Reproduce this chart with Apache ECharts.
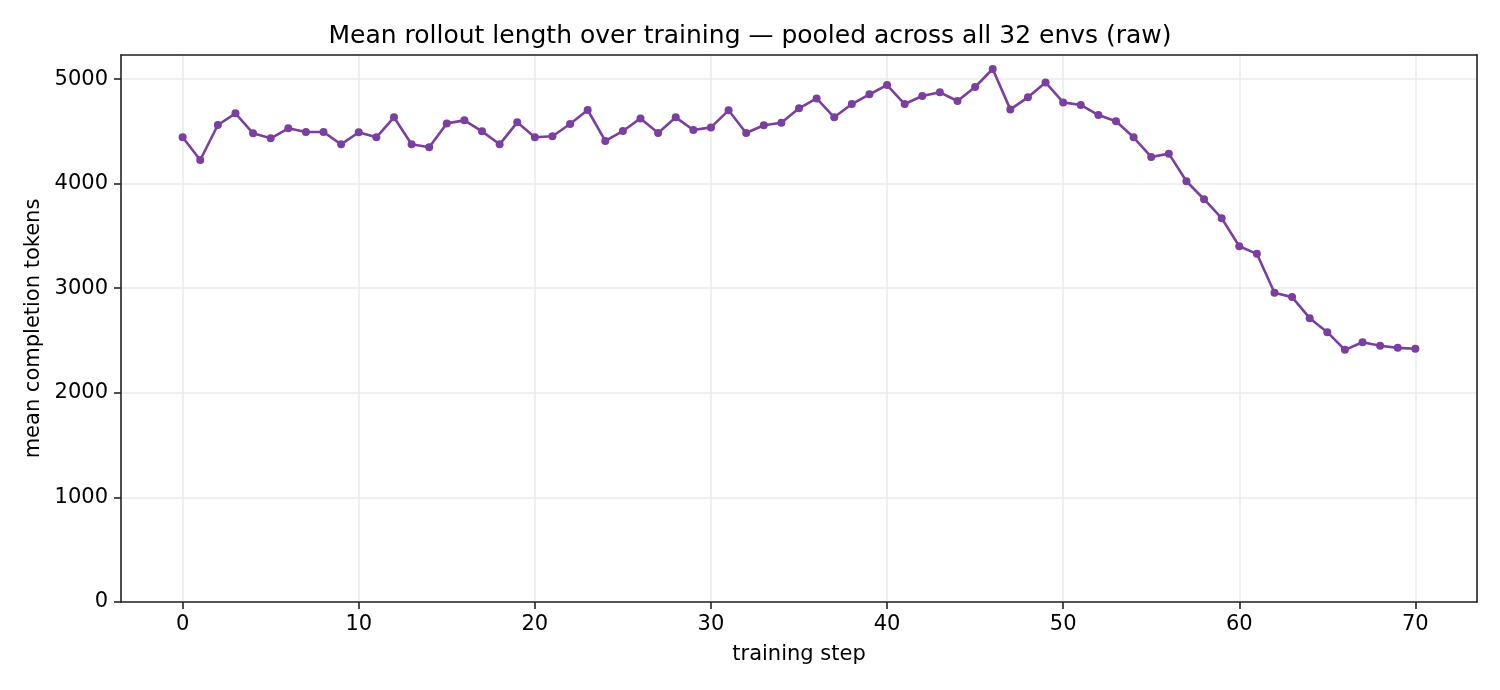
<!DOCTYPE html>
<html>
<head>
<meta charset="utf-8">
<script src="https://cdn.jsdelivr.net/npm/echarts@6/dist/echarts.min.js"></script>
<style>
  html, body { margin: 0; padding: 0; background: #fff; }
  #chart { width: 1500px; height: 690px; }
</style>
</head>
<body>
<div id="chart"></div>
<script>
// training steps 0..70 and the pooled mean completion tokens
var steps = [
  0, 1, 2, 3, 4, 5, 6, 7, 8, 9,
  10, 11, 12, 13, 14, 15, 16, 17, 18, 19,
  20, 21, 22, 23, 24, 25, 26, 27, 28, 29,
  30, 31, 32, 33, 34, 35, 36, 37, 38, 39,
  40, 41, 42, 43, 44, 45, 46, 47, 48, 49,
  50, 51, 52, 53, 54, 55, 56, 57, 58, 59,
  60, 61, 62, 63, 64, 65, 66, 67, 68, 69,
  70
];
var meanTokens = [
  4443, 4226, 4561, 4672, 4481, 4433, 4529, 4494, 4494, 4376,
  4491, 4443, 4634, 4376, 4348, 4576, 4605, 4500, 4376, 4586,
  4443, 4453, 4570, 4704, 4408, 4503, 4624, 4484, 4634, 4513,
  4538, 4701, 4484, 4558, 4583, 4720, 4815, 4634, 4761, 4854,
  4943, 4761, 4838, 4873, 4790, 4924, 5096, 4710, 4825, 4968,
  4777, 4752, 4656, 4596, 4443, 4255, 4287, 4023, 3851, 3670,
  3402, 3329, 2956, 2915, 2714, 2580, 2411, 2484, 2450, 2430,
  2421
];
var xTicks = [0, 10, 20, 30, 40, 50, 60, 70];

var font = 'DejaVu Sans';
var spine = { color: '#222', width: 1.6 };
var chart = echarts.init(document.getElementById('chart'));

var points = [];
for (var i = 0; i < steps.length; i++) {
  points.push([steps[i], meanTokens[i]]);
}

// bare axis used only to draw the top / right frame
function frameAxis(pos, min, max) {
  return {
    type: 'value', position: pos, min: min, max: max,
    axisLine: { show: true, onZero: false, lineStyle: spine },
    axisTick: { show: false }, axisLabel: { show: false }, splitLine: { show: false }
  };
}

chart.setOption({
  animation: false,
  backgroundColor: '#ffffff',
  title: {
    text: 'Mean rollout length over training \u2014 pooled across all 32 envs (raw)',
    left: 'center',
    top: 19,
    textStyle: { fontFamily: font, fontSize: 25, fontWeight: 'normal', color: '#000' }
  },
  grid: { left: 121, right: 23, top: 55, bottom: 88 },
  xAxis: [{
    type: 'value',
    min: -3.5,
    max: 73.5,
    name: 'training step',
    nameLocation: 'middle',
    nameGap: 42,
    nameTextStyle: { fontFamily: font, fontSize: 21, color: '#000' },
    axisLine: { show: true, onZero: false, lineStyle: spine },
    axisTick: { show: true, length: 7, customValues: xTicks, lineStyle: spine },
    axisLabel: { customValues: xTicks, fontFamily: font, fontSize: 21, color: '#000', margin: 12 },
    splitLine: { show: true, lineStyle: { color: '#ebebeb', width: 1.6 } }
  }, frameAxis('top', -3.5, 73.5)],
  yAxis: [{
    type: 'value',
    min: 0,
    max: 5230,
    interval: 1000,
    name: 'mean completion tokens',
    nameLocation: 'middle',
    nameGap: 75,
    nameTextStyle: { fontFamily: font, fontSize: 21, color: '#000' },
    axisLine: { show: true, onZero: false, lineStyle: spine },
    axisTick: { show: true, length: 7, lineStyle: spine },
    axisLabel: {
      fontFamily: font, fontSize: 21, color: '#000', margin: 13,
      showMaxLabel: false,
      formatter: function (v) { return String(v); }
    },
    splitLine: { show: true, lineStyle: { color: '#ebebeb', width: 1.6 } }
  }, frameAxis('right', 0, 5230)],
  series: [{
    type: 'line',
    data: points,
    symbol: 'circle',
    symbolSize: 8,
    lineStyle: { color: '#7b3f9f', width: 2.6 },
    itemStyle: { color: '#7b3f9f' }
  }]
});
</script>
</body>
</html>
